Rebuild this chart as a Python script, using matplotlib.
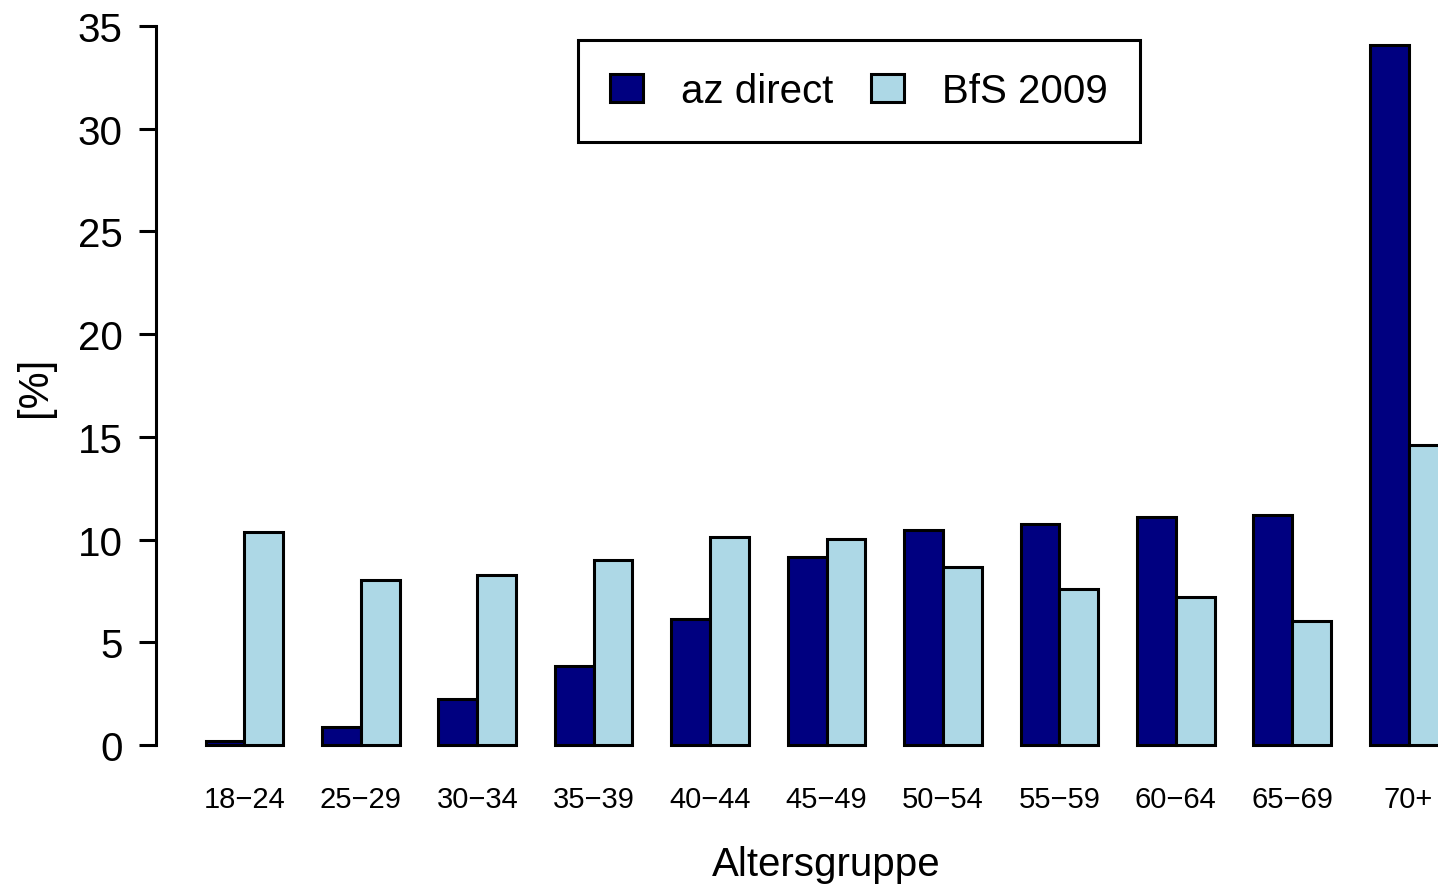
import matplotlib
matplotlib.use("Agg")
import matplotlib.pyplot as plt
import numpy as np

plt.rcParams["font.family"] = ["Liberation Sans", "DejaVu Sans"]

age_groups = ["18\u221224", "25\u221229", "30\u221234", "35\u221239", "40\u221244",
              "45\u221249", "50\u221254", "55\u221259", "60\u221264", "65\u221269", "70+"]
az_direct = [0.2, 0.88, 2.24, 3.85, 6.13, 9.15, 10.47, 10.76, 11.1, 11.2, 34.1]
bfs_2009 = [10.37, 8.03, 8.28, 9.0, 10.13, 10.03, 8.67, 7.6, 7.2, 6.04, 14.6]
series_names = ["az direct", "BfS 2009"]
series_colors = ["#000080", "#ADD8E6"]

W, H = 1438, 887
fig = plt.figure(figsize=(W / 100, H / 100), dpi=100)

# plot region in pixels (R-like barplot with 4% padding, right part clipped)
left, right, top, bottom = 156, 1497, -1.7, 774.8
ax = fig.add_axes([left / W, 1 - bottom / H, (right - left) / W, (bottom - top) / H])

groups = np.arange(len(age_groups)) * 3
lw = 2.2
ax.bar(groups + 1.5, az_direct, width=1, color=series_colors[0],
       edgecolor="black", linewidth=lw, label=series_names[0])
ax.bar(groups + 2.5, bfs_2009, width=1, color=series_colors[1],
       edgecolor="black", linewidth=lw, label=series_names[1])

ax.set_xlim(-0.28, 34.28)
ax.set_ylim(-1.4, 36.4)

for s in ["top", "right", "bottom"]:
    ax.spines[s].set_visible(False)
ax.spines["left"].set_bounds(0, 35)
ax.spines["left"].set_linewidth(lw)

ax.set_yticks(np.arange(0, 36, 5))
ax.tick_params(axis="y", length=12, width=lw, pad=12, labelsize=29)
ax.set_xticks(groups + 2)
ax.set_xticklabels(age_groups)
ax.tick_params(axis="x", length=0, pad=8, labelsize=21)

ax.set_xlabel("Altersgruppe", fontsize=29)
ax.set_ylabel("[%]", fontsize=30)
ax.xaxis.set_label_coords(0.5, -0.092)
ax.yaxis.set_label_coords((55 - left) / (right - left), 0.5)

leg = ax.legend(loc="center", bbox_to_anchor=(859 / W, 1 - 92 / H),
                bbox_transform=fig.transFigure, ncol=2, fontsize=29,
                frameon=True, fancybox=False, handlelength=0.8, handleheight=0.7,
                handletextpad=0.95, columnspacing=0.95, borderpad=0.8)
leg.get_frame().set_edgecolor("black")
leg.get_frame().set_linewidth(2.2)
leg.get_frame().set_alpha(1)
for p in leg.get_patches():
    p.set_linewidth(2.2)

fig.savefig("out.png", dpi=100)
